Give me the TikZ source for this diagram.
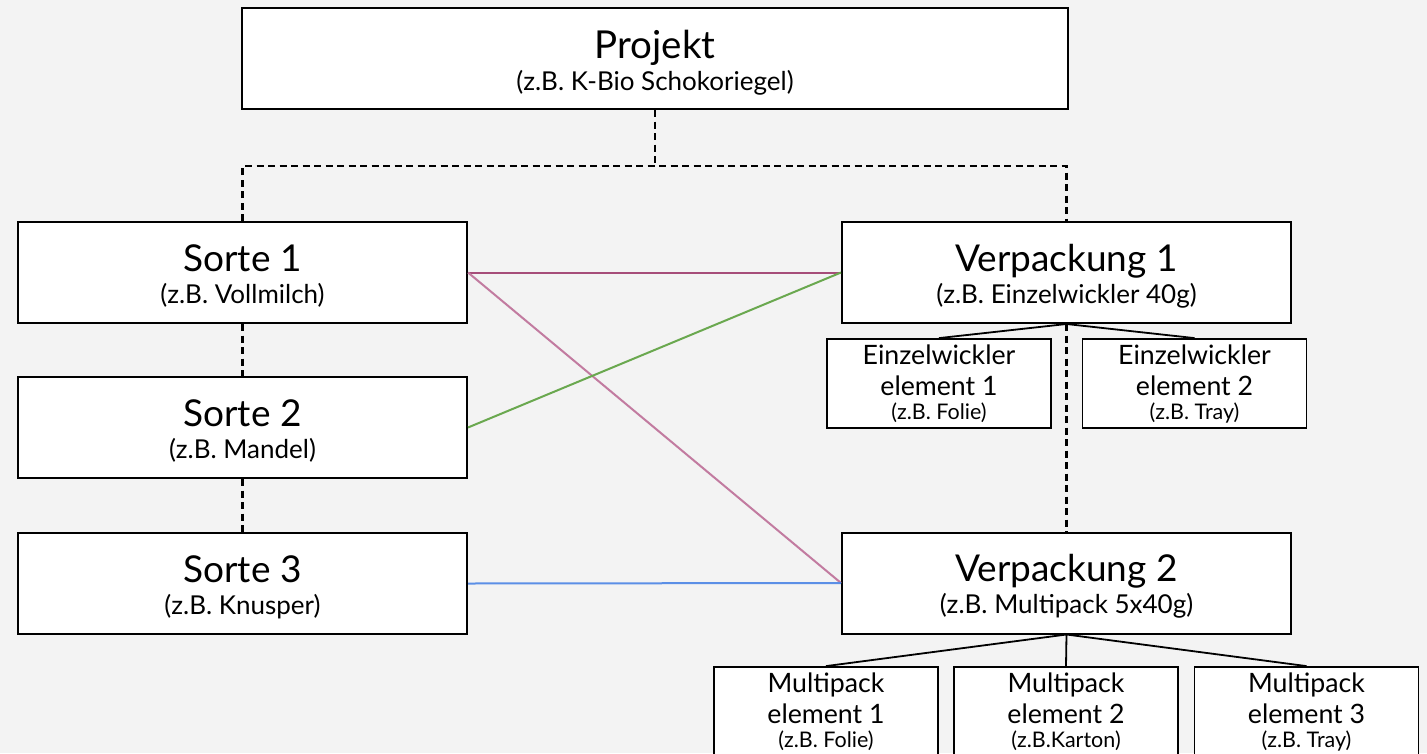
\documentclass[tikz,border=0pt]{standalone}
\usepackage{fontspec}
\setmainfont{Lato}
\definecolor{bgc}{HTML}{F3F3F3}
\definecolor{magdark}{HTML}{A64D79}
\definecolor{maglight}{HTML}{C27BA0}
\definecolor{grn}{HTML}{6AA84F}
\definecolor{blu}{HTML}{5B8FE6}
\begin{document}
\begin{tikzpicture}[x=1pt,y=-1pt,
  box/.style={draw=black, line width=2pt, fill=white, inner sep=0pt},
  bigbox/.style={box, minimum width=449pt, minimum height=101pt},
  smallbox/.style={box, line width=1.8pt, minimum width=224pt, minimum height=89pt},
  ttl/.style={anchor=base, font=\fontsize{37}{40}\selectfont, inner sep=0pt},
  pttl/.style={anchor=base, font=\fontsize{38.5}{40}\selectfont, inner sep=0pt},
  sub/.style={anchor=base, font=\fontsize{26}{28}\selectfont, inner sep=0pt},
  sttl/.style={anchor=base, font=\fontsize{26.7}{30}\selectfont, inner sep=0pt},
  ssub/.style={anchor=base, font=\fontsize{21.5}{24}\selectfont, inner sep=0pt},
  dashline/.style={line width=2.4pt, dash pattern=on 7pt off 4.5pt},
  link/.style={line width=2pt},
  tree/.style={line width=1.8pt}
]
\useasboundingbox (0,0) rectangle (1427,753);
\fill[bgc] (0,0) rectangle (1427,753);

% boxes
\node[box, minimum width=826pt, minimum height=101pt] (proj) at (655,58.5) {};
\node[bigbox] (s1) at (242.5,272.5) {};
\node[bigbox] (s2) at (242.5,427.5) {};
\node[bigbox] (s3) at (242.5,583.5) {};
\node[bigbox] (v1) at (1066.5,272.5) {};
\node[bigbox] (v2) at (1066.5,583) {};
\node[smallbox] (e1) at (939,383.5) {};
\node[smallbox] (e2) at (1194.5,383.5) {};
\node[smallbox] (m1) at (826,711.5) {};
\node[smallbox] (m2) at (1066,711.5) {};
\node[smallbox] (m3) at (1306.5,711.5) {};

% texts
\node[pttl] (projt) at ([yshift=-51pt]proj.north) {Projekt};
\node[sub] (projs) at ([yshift=-83pt]proj.north) {(z.B. K-Bio Schokoriegel)};
\node[ttl] (s1t) at ([yshift=-50pt]s1.north) {Sorte 1};
\node[sub] (s1s) at ([yshift=-82pt]s1.north) {(z.B. Vollmilch)};
\node[ttl] (s2t) at ([yshift=-50pt]s2.north) {Sorte 2};
\node[sub] (s2s) at ([yshift=-82pt]s2.north) {(z.B. Mandel)};
\node[ttl] (s3t) at ([yshift=-50pt]s3.north) {Sorte 3};
\node[sub] (s3s) at ([yshift=-82pt]s3.north) {(z.B. Knusper)};
\node[ttl] (v1t) at ([yshift=-50pt]v1.north) {Verpackung 1};
\node[sub] (v1s) at ([yshift=-82pt]v1.north) {(z.B. Einzelwickler 40g)};
\node[ttl] (v2t) at ([yshift=-50pt]v2.north) {Verpackung 2};
\node[sub] (v2s) at ([yshift=-82pt]v2.north) {(z.B. Multipack 5x40g)};

\node[sttl] (e1a) at ([yshift=-26pt]e1.north) {Einzelwickler};
\node[sttl] (e1b) at ([yshift=-57pt]e1.north) {element 1};
\node[ssub] (e1c) at ([yshift=-81pt]e1.north) {(z.B. Folie)};
\node[sttl] (e2a) at ([yshift=-26pt]e2.north) {Einzelwickler};
\node[sttl] (e2b) at ([yshift=-57pt]e2.north) {element 2};
\node[ssub] (e2c) at ([yshift=-81pt]e2.north) {(z.B. Tray)};

\node[sttl] (m1a) at ([yshift=-26pt]m1.north) {Multipack};
\node[sttl] (m1b) at ([yshift=-57pt]m1.north) {element 1};
\node[ssub] (m1c) at ([yshift=-81pt]m1.north) {(z.B. Folie)};
\node[sttl] (m2a) at ([yshift=-26pt]m2.north) {Multipack};
\node[sttl] (m2b) at ([yshift=-57pt]m2.north) {element 2};
\node[ssub] (m2c) at ([yshift=-81pt]m2.north) {(z.B.Karton)};
\node[sttl] (m3a) at ([yshift=-26pt]m3.north) {Multipack};
\node[sttl] (m3b) at ([yshift=-57pt]m3.north) {element 3};
\node[ssub] (m3c) at ([yshift=-81pt]m3.north) {(z.B. Tray)};

% dashed hierarchy
\coordinate (jn) at (655,166);
\draw[dashline] (proj.south) -- (jn);
\draw[dashline] (s1.north) -- (s1.north |- jn) -- (v1.north |- jn) -- (v1.north);
\draw[dashline] (s1.south) -- (s2.north);
\draw[dashline] (s2.south) -- (s3.north);
\draw[dashline] (v1.south) -- (v2.north);

% coloured links
\draw[link, magdark] (s1.east) -- (v1.west);
\draw[link, maglight] (s1.east) -- (v2.west);
\draw[link, grn] (s2.east) -- (v1.west);
\draw[link, blu] (s3.east) -- (v2.west);

% element trees
\draw[tree] (v1.south) -- (e1.north);
\draw[tree] (v1.south) -- (e2.north);
\draw[tree] (v2.south) -- (m1.north);
\draw[tree] (v2.south) -- (m2.north);
\draw[tree] (v2.south) -- (m3.north);
\end{tikzpicture}
\end{document}
